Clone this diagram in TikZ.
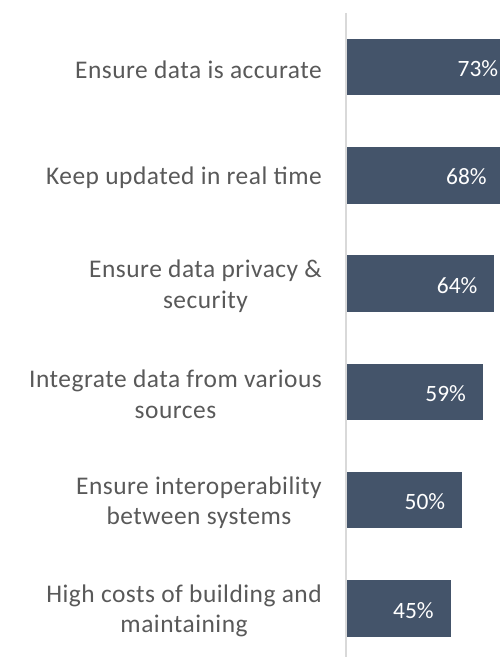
\documentclass[tikz,border=0pt]{standalone}
\usepackage{fontspec}
\setmainfont{Carlito}
\newfontfamily\catfont[LetterSpace=2]{Carlito}
\definecolor{barc}{HTML}{44546A}
\definecolor{txt}{HTML}{595959}
\definecolor{axisc}{HTML}{D9D9D9}
\begin{document}
\begin{tikzpicture}[x=1bp,y=-1bp,
  bar/.style={fill=barc,draw=none,anchor=west,inner sep=0pt,minimum height=56.5bp},
  cat/.style={anchor=east,align=center,text=txt,inner sep=0pt,yshift=-2.5bp,font=\catfont\fontsize{25.5}{30.5}\selectfont},
  pct/.style={anchor=base east,text=white,inner sep=0pt,font=\fontsize{23.5}{28}\selectfont},
  axisline/.style={draw=axisc,line width=2bp}]
\useasboundingbox (0,0) rectangle (500,657);
\fill[white] (0,0) rectangle (500,657);
\coordinate (axtop) at (346.3,13);
\coordinate (axbot) at (346.3,657);
\draw[axisline] (axtop) -- (axbot);
% bars
\node[bar,minimum width=167.9bp] (b1) at (347,67.0) {};
\node[bar,minimum width=156.4bp] (b2) at (347,175.3) {};
\node[bar,minimum width=147.2bp] (b3) at (347,283.6) {};
\node[bar,minimum width=135.7bp] (b4) at (347,391.9) {};
\node[bar,minimum width=115.0bp] (b5) at (347,500.2) {};
\node[bar,minimum width=103.5bp] (b6) at (347,608.5) {};
% values
\node[pct] (p1) at ([xshift=-17bp,yshift=-9.5bp]b1.east) {73\%};
\node[pct] (p2) at ([xshift=-17bp,yshift=-9.5bp]b2.east) {68\%};
\node[pct] (p3) at ([xshift=-17bp,yshift=-9.5bp]b3.east) {64\%};
\node[pct] (p4) at ([xshift=-17bp,yshift=-9.5bp]b4.east) {59\%};
\node[pct] (p5) at ([xshift=-17bp,yshift=-9.5bp]b5.east) {50\%};
\node[pct] (p6) at ([xshift=-17bp,yshift=-9.5bp]b6.east) {45\%};
% categories
\node[cat] (c1) at (322,67.0) {Ensure data is accurate};
\node[cat] (c2) at (322,175.3) {Keep updated in real time};
\node[cat] (c3) at (322,283.6) {Ensure data privacy \&\\security};
\node[cat] (c4) at (322,391.9) {Integrate data from various\\sources};
\node[cat] (c5) at (322,500.2) {Ensure interoperability\\between systems};
\node[cat] (c6) at (322,608.5) {High costs of building and\\maintaining};
\end{tikzpicture}
\end{document}
